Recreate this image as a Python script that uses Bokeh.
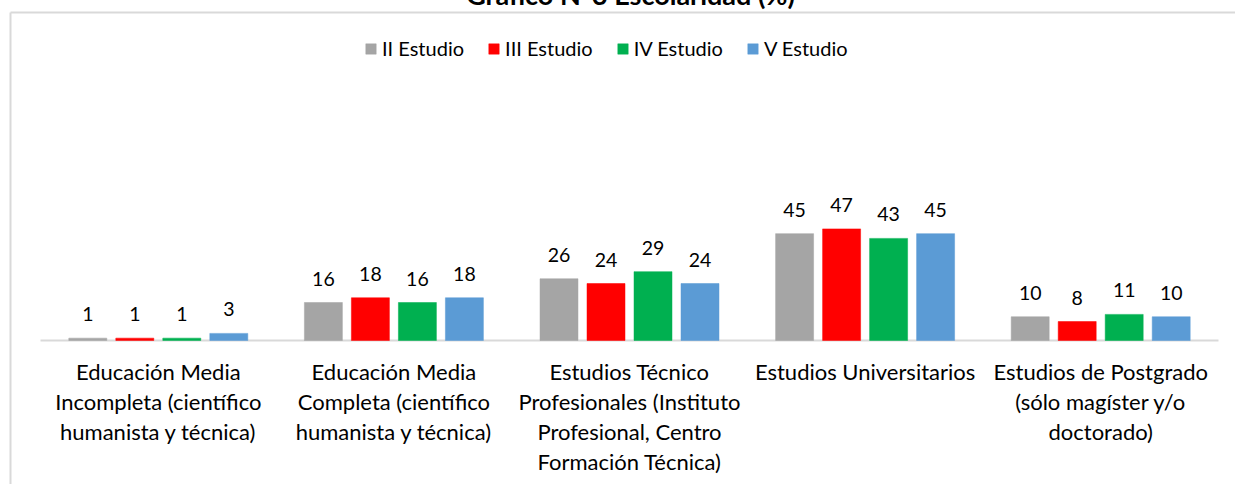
from bokeh.plotting import figure
from bokeh.models import ColumnDataSource, Legend, LegendItem, Label
from bokeh.core.properties import value
from bokeh.embed import file_html
from bokeh.resources import INLINE

# ---------------- data ----------------
categories = [
    "Educación Media\nIncompleta (científico\nhumanista y técnica)",
    "Educación Media\nCompleta (científico\nhumanista y técnica)",
    "Estudios Técnico\nProfesionales (Instituto\nProfesional, Centro\nFormación Técnica)",
    "Estudios Universitarios",
    "Estudios de Postgrado\n(sólo magíster y/o\ndoctorado)",
]
series_names = ["II Estudio", "III Estudio", "IV Estudio", "V Estudio"]
ii_estudio = [1, 16, 26, 45, 10]
iii_estudio = [1, 18, 24, 47, 8]
iv_estudio = [1, 16, 29, 43, 11]
v_estudio = [3, 18, 24, 45, 10]
title_text = "Gráfico N°3 Escolaridad (%)"

# ---------------- layout / style ----------------
colors = ["#A5A5A5", "#FF0000", "#00B050", "#5B9BD5"]
FONT = "Lato"
W, H = 1235, 484    # visible page area
OFF = 8             # figure origin sits OFF px above / left of the page origin
WF, HF = W + OFF, H + OFF
PX = 235.6          # pixels per category
LEFT = 40           # left edge of plot area (page px)
Y0 = 340            # page pixel row of value 0
PY = 2.375          # pixels per percentage point
STEP = 47 / PX
BW = 38 / PX

x_start = -(LEFT + OFF) / PX - 0.5
x_end = x_start + WF / PX
y_end = (Y0 + OFF) / PY
y_start = -(H - Y0) / PY


def px_x(px):
    return x_start + (px + OFF) / PX


def px_y(py):
    return (Y0 - py) / PY


p = figure(width=WF, height=HF, x_range=(x_start, x_end), y_range=(y_start, y_end),
           output_backend="svg", toolbar_location=None, min_border=0,
           x_axis_location=None, y_axis_location=None,
           styles={"margin-left": "-8px", "margin-top": "-8px",
                   "margin-right": "-8px", "margin-bottom": "-8px"})
p.grid.visible = False
p.outline_line_color = None
p.background_fill_color = "white"
p.border_fill_color = "white"

n = len(categories)
# chart border (light grey) and category axis line
p.segment(x0=[px_x(10), px_x(10)], y0=[px_y(12), px_y(12)],
          x1=[x_end, px_x(10)], y1=[px_y(12), y_start],
          line_color="#D9D9D9", line_width=2)
p.segment(x0=[-0.5], y0=[0], x1=[n - 0.5], y1=[0], line_color="#D9D9D9", line_width=2)

all_series = [ii_estudio, iii_estudio, iv_estudio, v_estudio]
items = []
for j, (name, vals, col) in enumerate(zip(series_names, all_series, colors)):
    src = ColumnDataSource(dict(
        x=[i + (j - 1.5) * STEP for i in range(n)],
        top=vals,
        label=[str(v) for v in vals],
    ))
    r = p.vbar(x="x", top="top", width=BW, source=src, fill_color=col,
               line_color=col, line_width=0.5)
    p.text(x="x", y="top", text="label", source=src, y_offset=-24,
           text_align="center", text_baseline="middle",
           text_font=value(FONT), text_font_size="19.5px", text_color="#000000")
    items.append(LegendItem(label=name, renderers=[r]))

# category labels (multi-line), below the axis
lx, ly, lt, lo = [], [], [], []
for i, cat in enumerate(categories):
    for k, line in enumerate(cat.split("\n")):
        lx.append(i)
        ly.append(0)
        lt.append(line)
        lo.append(31 + 30 * k)
p.text(x=lx, y=ly, text=lt, y_offset=lo, text_align="center", text_baseline="middle",
       text_font=value(FONT), text_font_size="22px", text_color="#000000")

legend = Legend(items=items, orientation="horizontal", location=(364 + OFF, H - 60),
                glyph_width=13, glyph_height=13, label_height=20,
                label_text_font=FONT, label_text_font_size="20px",
                label_text_color="#000000", label_standoff=5, spacing=23,
                padding=0, margin=0, border_line_color=None,
                background_fill_alpha=0)
p.add_layout(legend)

p.add_layout(Label(x=630 + OFF, y=H + 6, x_units="screen", y_units="screen",
                   text=title_text, text_align="center", text_baseline="alphabetic",
                   text_font=FONT, text_font_style="bold", text_font_size="27px",
                   text_color="#000000"))

open("out.html", "w").write(file_html(p, INLINE))
